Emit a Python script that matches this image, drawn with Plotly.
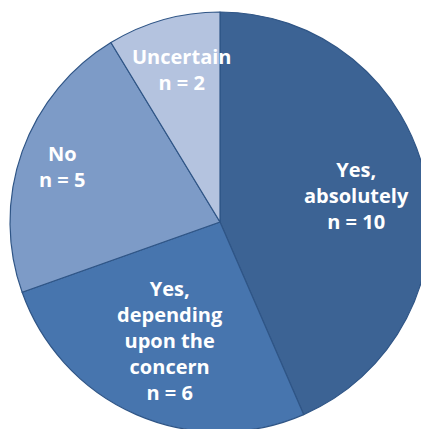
import plotly.graph_objects as go

# survey answers, clockwise from 12 o'clock
labels = ['Yes, absolutely', 'Yes, depending upon the concern', 'No', 'Uncertain']
counts = [10, 6, 5, 2]
label_text = ['Yes,<br>absolutely', 'Yes,<br>depending<br>upon the<br>concern', 'No', 'Uncertain']

# colours per slice
colors = ['#3c6394', '#4775ae', '#7d9bc7', '#b4c3df']

fig = go.Figure(data=[go.Pie(labels=labels,
                             values=counts,
                             sort=False,
                             direction='clockwise',
                             rotation=0,
                             textinfo='none',
                             hoverinfo='label+value',
                             marker=dict(colors=colors, line=dict(color='#2f5586', width=1.2)),
                             domain=dict(x=[0.0047, 0.9837], y=[0.0117, 0.9907]))])

# label positions (paper coords) for each slice
label_pos = [(0.8135, 0.564), (0.3776, 0.2261), (0.1259, 0.6294), (0.4033, 0.8578)]
for txt, n, (x, y) in zip(label_text, counts, label_pos):
    fig.add_annotation(x=x, y=y, xref='paper', yref='paper',
                       xanchor='center', yanchor='middle',
                       text='<b>' + txt + '<br>n = ' + str(n) + '</b>',
                       showarrow=False, align='center',
                       font=dict(family='Open Sans', size=20, color='white'))

fig.update_layout(width=429, height=429,
                  margin=dict(t=0, l=0, r=0, b=0),
                  showlegend=False,
                  paper_bgcolor='white')

fig.write_html("out.html")
